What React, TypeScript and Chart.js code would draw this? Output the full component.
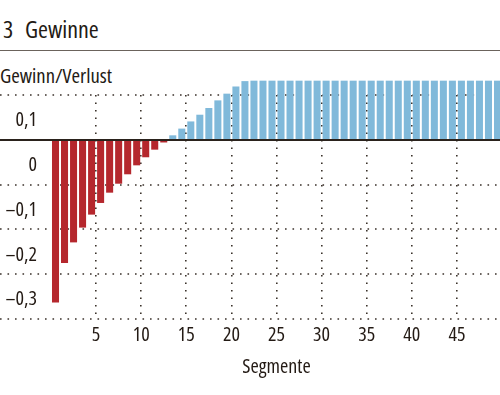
import React, { useEffect, useRef } from "react";
import { Chart, registerables } from "chart.js";

Chart.register(...registerables);

const FAMILY = "'Open Sans', 'Roboto Condensed', sans-serif";
const STRETCH = "condensed";
const TEXT = "#231a14";
const GRID = "#3b322b";

const titleNumber = "3";
const titleText = "Gewinne";
const yAxisTitle = "Gewinn/Verlust";
const xAxisTitle = "Segmente";

const segments = [
  "1", "2", "3", "4", "5", "6", "7", "8", "9", "10",
  "11", "12", "13", "14", "15", "16", "17", "18", "19", "20",
  "21", "22", "23", "24", "25", "26", "27", "28", "29", "30",
  "31", "32", "33", "34", "35", "36", "37", "38", "39", "40",
  "41", "42", "43", "44", "45", "46", "47", "48", "49", "50",
];

const values = [
  -0.363, -0.275, -0.229, -0.196, -0.167, -0.141, -0.118, -0.098, -0.077, -0.057,
  -0.039, -0.022, -0.006, 0.010, 0.025, 0.041, 0.056, 0.071, 0.088, 0.103,
  0.119, 0.131, 0.132, 0.132, 0.132, 0.132, 0.132, 0.132, 0.132, 0.132,
  0.132, 0.132, 0.132, 0.132, 0.132, 0.132, 0.132, 0.132, 0.132, 0.132,
  0.132, 0.132, 0.132, 0.132, 0.132, 0.132, 0.132, 0.132, 0.132, 0.132,
];

const yTickValues = [-0.4, -0.3, -0.2, -0.1, 0, 0.1];
const yTickLabels = ["", "\u20130,3", "\u20130,2", "\u20130,1", "0", "0,1"];
const xTickValues = [5, 10, 15, 20, 25, 30, 35, 40, 45];
const xTickLabels = ["5", "10", "15", "20", "25", "30", "35", "40", "45"];

const RED = "#b5272d";
const BLUE = "#80b9da";

const gridPlugin = {
  id: "fullWidthGrid",
  beforeDatasetsDraw(chart: any) {
    const y = chart.scales.y;
    const ctx = chart.ctx;
    ctx.save();
    ctx.strokeStyle = GRID;
    ctx.lineWidth = 1.6;
    ctx.setLineDash([1.6, 5.9]);
    yTickValues.forEach((v) => {
      if (v === 0) return;
      const py = Math.round(y.getPixelForValue(v));
      ctx.beginPath();
      ctx.moveTo(0, py);
      ctx.lineTo(chart.width, py);
      ctx.stroke();
    });
    ctx.restore();
  },
  afterDatasetsDraw(chart: any) {
    const y = chart.scales.y;
    const ctx = chart.ctx;
    const py = Math.round(y.getPixelForValue(0));
    ctx.save();
    ctx.strokeStyle = "#2a221c";
    ctx.lineWidth = 2;
    ctx.beginPath();
    ctx.moveTo(0, py);
    ctx.lineTo(chart.width, py);
    ctx.stroke();
    ctx.restore();
  },
};

export default function App() {
  const ref = useRef<HTMLCanvasElement>(null);

  useEffect(() => {
    document.body.style.margin = "0";
    const canvas = ref.current;
    if (!canvas) return;
    const tickFont = { family: FAMILY, size: 20, weight: STRETCH as any };
    const chart = new Chart(canvas, {
      type: "bar",
      data: {
        labels: segments,
        datasets: [
          {
            data: values,
            backgroundColor: values.map((v) => (v < 0 ? RED : BLUE)),
            borderWidth: 0,
            barPercentage: 0.78,
            categoryPercentage: 1,
            clip: false as any,
            xAxisID: "x",
            yAxisID: "y",
          },
        ],
      },
      options: {
        responsive: false,
        animation: false,
        devicePixelRatio: 1,
        layout: { padding: { top: 95, bottom: 8, left: 0, right: 0 } },
        plugins: {
          legend: { display: false },
          tooltip: { enabled: false },
          title: { display: false },
        },
        scales: {
          x: {
            type: "category",
            display: false,
            offset: true,
            grid: { display: false },
          },
          x2: {
            type: "linear",
            position: "bottom",
            min: 0,
            max: 50,
            offset: false,
            afterBuildTicks: (scale: any) => {
              scale.ticks = xTickValues.map((v) => ({ value: v }));
            },
            grid: {
              display: true,
              offset: false,
              drawOnChartArea: true,
              drawTicks: false,
              color: GRID,
              lineWidth: 1.6,
            },
            border: { display: false, dash: [1.6, 5.9] },
            ticks: {
              color: TEXT,
              padding: 4,
              maxRotation: 0,
              autoSkip: false,
              font: tickFont,
              callback: (v: any) => {
                const i = xTickValues.indexOf(Number(v));
                return i >= 0 ? xTickLabels[i] : "";
              },
            },
            title: {
              display: true,
              text: xAxisTitle,
              color: TEXT,
              font: tickFont,
              padding: { top: 4, bottom: 8 },
            },
          },
          y: {
            type: "linear",
            min: -0.4,
            max: 0.1,
            afterBuildTicks: (scale: any) => {
              scale.ticks = yTickValues.map((v) => ({ value: v }));
            },
            afterFit: (scale: any) => {
              scale.width = 51;
            },
            grid: { display: false, drawTicks: false },
            border: { display: false },
            ticks: {
              color: TEXT,
              padding: 14,
              labelOffset: 25.5,
              font: tickFont,
              callback: (v: any) => {
                const i = yTickValues.findIndex((t) => Math.abs(t - Number(v)) < 1e-9);
                return i >= 0 ? yTickLabels[i] : "";
              },
            },
          },
        },
      },
      plugins: [gridPlugin],
    });
    return () => chart.destroy();
  }, []);

  const titleStyle: React.CSSProperties = {
    position: "absolute",
    top: 17,
    fontSize: 24,
    lineHeight: "24px",
    whiteSpace: "pre",
  };

  return (
    <div
      style={{
        position: "fixed",
        left: 0,
        top: 0,
        width: 500,
        height: 395,
        overflow: "hidden",
        background: "#fff",
        fontFamily: FAMILY,
        fontStretch: STRETCH,
        color: TEXT,
      }}
    >
      <div style={{ ...titleStyle, left: 3 }}>{titleNumber}</div>
      <div style={{ ...titleStyle, left: 25 }}>{titleText}</div>
      <div
        style={{
          position: "absolute",
          left: 0,
          top: 50,
          width: 500,
          height: 1,
          background: "#6b635c",
        }}
      />
      <div
        style={{
          position: "absolute",
          left: 0,
          top: 65,
          fontSize: 20.7,
          lineHeight: "20.7px",
          whiteSpace: "pre",
        }}
      >
        {yAxisTitle}
      </div>
      <canvas
        ref={ref}
        width={502}
        height={395}
        style={{ position: "absolute", left: 0, top: 0, width: 502, height: 395 }}
      />
    </div>
  );
}
